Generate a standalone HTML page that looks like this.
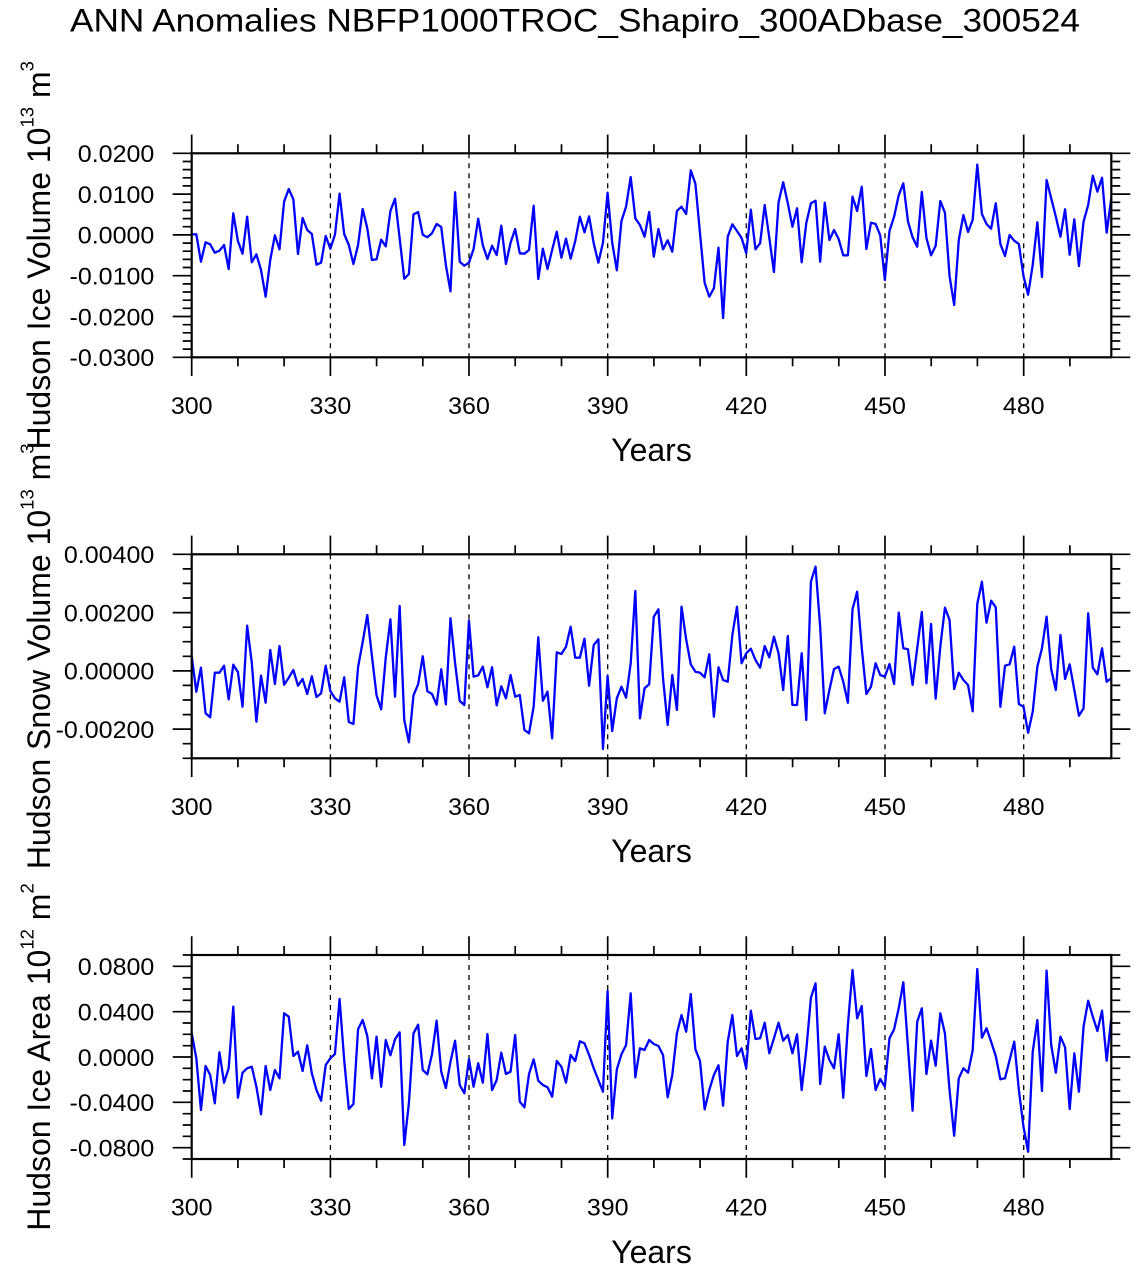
<!DOCTYPE html>
<html><head><meta charset="utf-8"><style>
html,body{margin:0;padding:0;background:#fff;}
svg{display:block;font-family:"Liberation Sans",Arial,sans-serif;}
</style></head><body>
<svg width="1136" height="1268" viewBox="0 0 1136 1268" xmlns="http://www.w3.org/2000/svg">
<rect x="0" y="0" width="1136" height="1268" fill="#fff"/>
<defs>
<path id="xt" d="M191.7 0v-18.7M330.4 0v-18.7M469 0v-18.7M607.7 0v-18.7M746.3 0v-18.7M885 0v-18.7M1023.7 0v-18.7M237.9 0v-9M284.1 0v-9M376.6 0v-9M422.8 0v-9M515.2 0v-9M561.5 0v-9M653.9 0v-9M700.1 0v-9M792.6 0v-9M838.8 0v-9M931.2 0v-9M977.4 0v-9M1069.9 0v-9" stroke="#000" stroke-width="1.7" fill="none"/>
<path id="xb" d="M191.7 0v18.7M330.4 0v18.7M469 0v18.7M607.7 0v18.7M746.3 0v18.7M885 0v18.7M1023.7 0v18.7M237.9 0v9M284.1 0v9M376.6 0v9M422.8 0v9M515.2 0v9M561.5 0v9M653.9 0v9M700.1 0v9M792.6 0v9M838.8 0v9M931.2 0v9M977.4 0v9M1069.9 0v9" stroke="#000" stroke-width="1.7" fill="none"/>
<path id="dl" d="M330.4 0v204M469 0v204M607.7 0v204M746.3 0v204M885 0v204M1023.7 0v204" stroke="#000" stroke-width="1.3" stroke-dasharray="5 5" fill="none"/>
</defs>

<!-- Title -->
<text x="70" y="31.5" font-size="32" textLength="1010" lengthAdjust="spacingAndGlyphs">ANN Anomalies NBFP1000TROC_Shapiro_300ADbase_300524</text>

<!-- ================= PLOT 1 ================= -->
<use href="#dl" y="153.3"/>
<polyline fill="none" stroke="#0000ff" stroke-width="2.3" stroke-linejoin="round" vector-effect="non-scaling-stroke" transform="translate(191.7 0) scale(4.621 1)" points="0,234.3 1,234.3 2,261.7 3,242.3 4,244.3 5,252.7 6,250.7 7,245 8,269 9,213.3 10,241 11,253.7 12,216.7 13,262.3 14,254.3 15,270 16,296.7 17,260 18,235.3 19,249.3 20,201.7 21,189 22,199.3 23,254 24,218 25,230 26,234 27,264.7 28,262.7 29,236 30,248.7 31,234.7 32,193.7 33,234 34,245 35,264 36,245 37,209 38,228.3 39,260 40,259.3 41,239.7 42,246.3 43,211 44,198.7 45,238.3 46,278.7 47,274 48,214.3 49,212 50,234.7 51,237.3 52,233.3 53,224 54,227 55,265 56,291.3 57,192.3 58,261.7 59,265.7 60,262.7 61,249 62,218.7 63,245.3 64,259 65,245.7 66,255 67,225.7 68,264 69,242.7 70,229 71,253.3 72,253.7 73,250 74,205.7 75,279 76,248.7 77,269 78,250 79,231.7 80,257.7 81,238.7 82,258.7 83,241 84,216.7 85,232.3 86,216.3 87,243.3 88,262.7 89,242.7 90,192.7 91,242.7 92,270.3 93,221 94,206.7 95,177 96,218.3 97,225 98,236.7 99,212 100,256.7 101,229 102,249.3 103,240.3 104,251.7 105,211 106,206.7 107,214 108,170.3 109,183.7 110,233.3 111,282.7 112,296.7 113,288.3 114,247.7 115,318 116,236.7 117,224.3 118,231 119,238 120,253.3 121,209.7 122,249.3 123,243.3 124,205 125,238 126,272 127,202.3 128,182.3 129,203.3 130,226.7 131,208.3 132,262.3 133,223 134,203.3 135,200.7 136,261.7 137,202.7 138,240 139,230 140,239 141,255.3 142,255.3 143,196.7 144,211 145,186.7 146,249 147,222.7 148,224 149,235.3 150,280 151,231 152,216.7 153,195.3 154,183.3 155,221.3 156,237.3 157,246.7 158,192 159,238 160,255.3 161,245.7 162,201 163,212.7 164,276 165,305 166,240 167,215 168,232 169,220 170,164.7 171,214 172,224 173,228.7 174,203.3 175,244 176,256 177,235 178,240.7 179,244 180,276 181,294.7 182,265 183,222.3 184,277 185,180 186,198.3 187,216.7 188,236.7 189,209.3 190,254.7 191,219.3 192,266 193,221.7 194,205 195,175.7 196,191.7 197,177.7 198,232.7 199,198.3"/>
<rect x="191.7" y="153.3" width="919.6" height="204" fill="none" stroke="#000" stroke-width="2.2"/>
<use href="#xt" y="153.3"/>
<use href="#xb" y="357.3"/>
<path stroke="#000" stroke-width="1.7" fill="none" d="M191.7 153.3h-19M1111.3 153.3h19M191.7 161.5h-9M1111.3 161.5h9M191.7 169.6h-9M1111.3 169.6h9M191.7 177.8h-9M1111.3 177.8h9M191.7 185.9h-9M1111.3 185.9h9M191.7 194.1h-19M1111.3 194.1h19M191.7 202.3h-9M1111.3 202.3h9M191.7 210.4h-9M1111.3 210.4h9M191.7 218.6h-9M1111.3 218.6h9M191.7 226.7h-9M1111.3 226.7h9M191.7 234.9h-19M1111.3 234.9h19M191.7 243.1h-9M1111.3 243.1h9M191.7 251.2h-9M1111.3 251.2h9M191.7 259.4h-9M1111.3 259.4h9M191.7 267.5h-9M1111.3 267.5h9M191.7 275.7h-19M1111.3 275.7h19M191.7 283.9h-9M1111.3 283.9h9M191.7 292h-9M1111.3 292h9M191.7 300.2h-9M1111.3 300.2h9M191.7 308.3h-9M1111.3 308.3h9M191.7 316.5h-19M1111.3 316.5h19M191.7 324.7h-9M1111.3 324.7h9M191.7 332.8h-9M1111.3 332.8h9M191.7 341h-9M1111.3 341h9M191.7 349.1h-9M1111.3 349.1h9M191.7 357.3h-19M1111.3 357.3h19"/>
<g font-size="24" text-anchor="end">
<text x="154.3" y="162.1" textLength="76.5" lengthAdjust="spacingAndGlyphs">0.0200</text>
<text x="154.3" y="202.9" textLength="76.5" lengthAdjust="spacingAndGlyphs">0.0100</text>
<text x="154.3" y="243.7" textLength="76.5" lengthAdjust="spacingAndGlyphs">0.0000</text>
<text x="154.3" y="284.5" textLength="84.8" lengthAdjust="spacingAndGlyphs">-0.0100</text>
<text x="154.3" y="325.3" textLength="84.8" lengthAdjust="spacingAndGlyphs">-0.0200</text>
<text x="154.3" y="366.1" textLength="84.8" lengthAdjust="spacingAndGlyphs">-0.0300</text>
</g>
<g font-size="24" text-anchor="middle">
<text x="191.7" y="414" textLength="41.7" lengthAdjust="spacingAndGlyphs">300</text>
<text x="330.4" y="414" textLength="41.7" lengthAdjust="spacingAndGlyphs">330</text>
<text x="469" y="414" textLength="41.7" lengthAdjust="spacingAndGlyphs">360</text>
<text x="607.7" y="414" textLength="41.7" lengthAdjust="spacingAndGlyphs">390</text>
<text x="746.3" y="414" textLength="41.7" lengthAdjust="spacingAndGlyphs">420</text>
<text x="885" y="414" textLength="41.7" lengthAdjust="spacingAndGlyphs">450</text>
<text x="1023.7" y="414" textLength="41.7" lengthAdjust="spacingAndGlyphs">480</text>
</g>
<text x="651.5" y="461" font-size="32" text-anchor="middle">Years</text>
<text transform="translate(50 255.3) rotate(-90)" font-size="32" text-anchor="middle">Hudson Ice Volume 10<tspan dy="-16.7" font-size="18.5">13</tspan><tspan dy="16.7"> m</tspan><tspan dy="-16.7" font-size="18.5">3</tspan></text>

<!-- ================= PLOT 2 ================= -->
<use href="#dl" y="554.3"/>
<polyline fill="none" stroke="#0000ff" stroke-width="2.3" stroke-linejoin="round" vector-effect="non-scaling-stroke" transform="translate(191.7 0) scale(4.621 1)" points="0,656 1,691.7 2,667.7 3,713.3 4,717.3 5,672.7 6,672.7 7,665.7 8,699.3 9,664.7 10,672 11,706.7 12,625.7 13,662.7 14,721.7 15,675.7 16,702.7 17,650 18,684 19,646 20,684.7 21,677.7 22,670 23,685.7 24,679 25,694 26,676.3 27,697 28,693.3 29,665.7 30,691 31,698.3 32,701.7 33,677.3 34,722 35,724 36,667.3 37,642 38,615 39,656 40,695.3 41,709.3 42,657.3 43,619.3 44,696.7 45,606 46,720 47,742.3 48,695.3 49,684.3 50,656.3 51,691.3 52,694 53,704.7 54,669.3 55,704.3 56,618.3 57,663.3 58,701 59,705 60,620.7 61,676.7 62,675.3 63,666.7 64,687.3 65,667.3 66,705.3 67,686.3 68,698.3 69,675 70,696.7 71,695 72,730 73,733.3 74,706.7 75,637.3 76,700.7 77,691.7 78,738.3 79,652.3 80,654 81,646.7 82,626.7 83,657.7 84,657.7 85,638.7 86,685.7 87,645 88,639.3 89,749 90,676 91,731 92,698.3 93,686.7 94,697.7 95,663.3 96,591 97,718.3 98,688.3 99,684.3 100,616.7 101,609.3 102,678.3 103,725 104,675 105,710 106,606.7 107,639.3 108,664.3 109,671.7 110,672.7 111,677.3 112,654.3 113,716.7 114,667.3 115,680 116,681.7 117,635 118,606.7 119,663.3 120,653.3 121,648.7 122,660 123,667.7 124,646 125,657.3 126,636.7 127,653.3 128,690 129,636 130,705 131,705 132,653.3 133,720 134,581.7 135,566.7 136,626.7 137,713.3 138,690 139,669 140,666.7 141,681.7 142,702.7 143,609.3 144,591.7 145,647.7 146,694 147,686.7 148,663.3 149,675 150,676.7 151,664 152,684 153,612.7 154,648.3 155,649.3 156,685 157,648.3 158,612 159,683.3 160,624 161,698.7 162,646.7 163,607.7 164,620 165,689 166,672.7 167,680 168,685 169,711.3 170,604 171,581.7 172,622.7 173,600.7 174,607.3 175,706.7 176,665.7 177,664.3 178,646.7 179,704 180,706.7 181,732.7 182,711.7 183,666.7 184,648.3 185,616.7 186,669.3 187,690 188,635 189,679 190,664.3 191,690 192,715.7 193,708.3 194,613.3 195,667.7 196,674.3 197,648.3 198,681.7 199,678.3"/>
<rect x="191.7" y="554.3" width="919.6" height="204" fill="none" stroke="#000" stroke-width="2.2"/>
<use href="#xt" y="554.3"/>
<use href="#xb" y="758.3"/>
<path stroke="#000" stroke-width="1.7" fill="none" d="M191.7 554.3h-19M1111.3 554.3h19M191.7 568.9h-9M1111.3 568.9h9M191.7 583.4h-9M1111.3 583.4h9M191.7 598h-9M1111.3 598h9M191.7 612.6h-19M1111.3 612.6h19M191.7 627.2h-9M1111.3 627.2h9M191.7 641.7h-9M1111.3 641.7h9M191.7 656.3h-9M1111.3 656.3h9M191.7 670.9h-19M1111.3 670.9h19M191.7 685.4h-9M1111.3 685.4h9M191.7 700h-9M1111.3 700h9M191.7 714.6h-9M1111.3 714.6h9M191.7 729.1h-19M1111.3 729.1h19M191.7 743.7h-9M1111.3 743.7h9M191.7 758.3h-9M1111.3 758.3h9"/>
<g font-size="24" text-anchor="end">
<text x="154.3" y="563.1" textLength="90.4" lengthAdjust="spacingAndGlyphs">0.00400</text>
<text x="154.3" y="621.4" textLength="90.4" lengthAdjust="spacingAndGlyphs">0.00200</text>
<text x="154.3" y="679.7" textLength="90.4" lengthAdjust="spacingAndGlyphs">0.00000</text>
<text x="154.3" y="737.9" textLength="98.7" lengthAdjust="spacingAndGlyphs">-0.00200</text>
</g>
<g font-size="24" text-anchor="middle">
<text x="191.7" y="815" textLength="41.7" lengthAdjust="spacingAndGlyphs">300</text>
<text x="330.4" y="815" textLength="41.7" lengthAdjust="spacingAndGlyphs">330</text>
<text x="469" y="815" textLength="41.7" lengthAdjust="spacingAndGlyphs">360</text>
<text x="607.7" y="815" textLength="41.7" lengthAdjust="spacingAndGlyphs">390</text>
<text x="746.3" y="815" textLength="41.7" lengthAdjust="spacingAndGlyphs">420</text>
<text x="885" y="815" textLength="41.7" lengthAdjust="spacingAndGlyphs">450</text>
<text x="1023.7" y="815" textLength="41.7" lengthAdjust="spacingAndGlyphs">480</text>
</g>
<text x="651.5" y="862" font-size="32" text-anchor="middle">Years</text>
<text transform="translate(50 656.3) rotate(-90)" font-size="32" text-anchor="middle">Hudson Snow Volume 10<tspan dy="-16.7" font-size="18.5">13</tspan><tspan dy="16.7"> m</tspan><tspan dy="-16.7" font-size="18.5">3</tspan></text>

<!-- ================= PLOT 3 ================= -->
<use href="#dl" y="955"/>
<polyline fill="none" stroke="#0000ff" stroke-width="2.3" stroke-linejoin="round" vector-effect="non-scaling-stroke" transform="translate(191.7 0) scale(4.621 1)" points="0,1033.3 1,1058.3 2,1110 3,1066 4,1075 5,1103.3 6,1052.3 7,1082.7 8,1068.3 9,1006.7 10,1097.7 11,1072.7 12,1068.3 13,1066.7 14,1086.7 15,1114.3 16,1066 17,1090 18,1070 19,1078.3 20,1013.3 21,1016.7 22,1056 23,1051.7 24,1071 25,1045.3 26,1073.3 27,1090 28,1100.7 29,1065 30,1058.3 31,1054 32,999 33,1060 34,1109 35,1104 36,1029.3 37,1020 38,1036 39,1078.3 40,1036.7 41,1086.7 42,1040 43,1055.3 44,1039.3 45,1032.3 46,1145 47,1103.3 48,1033.3 49,1024.7 50,1070 51,1074.3 52,1054.3 53,1020.7 54,1071.7 55,1088 56,1061.7 57,1040.7 58,1085 59,1093.3 60,1059 61,1086.7 62,1063.3 63,1082.7 64,1034 65,1090 66,1080 67,1052.7 68,1074 69,1071.7 70,1035 71,1101.7 72,1107.3 73,1074 74,1059.3 75,1080.7 76,1085 77,1087.3 78,1096.7 79,1061 80,1066.7 81,1082.7 82,1055 83,1061 84,1041.3 85,1043.3 86,1055 87,1068.3 88,1080 89,1091.7 90,991 91,1118.3 92,1069.3 93,1054.3 94,1045 95,993.3 96,1077.3 97,1048.3 98,1050 99,1040 100,1044 101,1046 102,1055 103,1097.3 104,1075 105,1033.3 106,1015 107,1031.7 108,994 109,1049.3 110,1061 111,1109.3 112,1090 113,1075 114,1065.3 115,1105.7 116,1041.7 117,1015 118,1056 119,1048.3 120,1068.3 121,1010.7 122,1039 123,1038.3 124,1022.7 125,1053.3 126,1038.3 127,1022.7 128,1040.7 129,1035 130,1053.3 131,1034.3 132,1090 133,1050 134,997.7 135,983.3 136,1084 137,1046.7 138,1060 139,1068.3 140,1034.3 141,1097.7 142,1025 143,970 144,1018.3 145,1006 146,1076 147,1049 148,1090 149,1079 150,1086.7 151,1038.3 152,1029.3 153,1008.3 154,982.3 155,1046.7 156,1110.7 157,1021.7 158,1008.3 159,1074 160,1040.7 161,1065.7 162,1013.3 163,1033.3 164,1090 165,1135.7 166,1078.3 167,1068.3 168,1072.7 169,1050.7 170,969 171,1037.7 172,1028.3 173,1041.7 174,1056 175,1079.3 176,1078.3 177,1060 178,1041.7 179,1090 180,1126.7 181,1151.7 182,1051.7 183,1020 184,1091 185,970.7 186,1045 187,1072.7 188,1036.7 189,1047.3 190,1109 191,1053.3 192,1091.7 193,1026.7 194,1000.7 195,1016.7 196,1031 197,1010.7 198,1060.7 199,1018.3"/>
<rect x="191.7" y="955" width="919.6" height="204" fill="none" stroke="#000" stroke-width="2.2"/>
<use href="#xt" y="955"/>
<use href="#xb" y="1159"/>
<path stroke="#000" stroke-width="1.7" fill="none" d="M191.7 955h-9M1111.3 955h9M191.7 966.3h-19M1111.3 966.3h19M191.7 977.7h-9M1111.3 977.7h9M191.7 989h-9M1111.3 989h9M191.7 1000.3h-9M1111.3 1000.3h9M191.7 1011.7h-19M1111.3 1011.7h19M191.7 1023h-9M1111.3 1023h9M191.7 1034.3h-9M1111.3 1034.3h9M191.7 1045.7h-9M1111.3 1045.7h9M191.7 1057h-19M1111.3 1057h19M191.7 1068.3h-9M1111.3 1068.3h9M191.7 1079.7h-9M1111.3 1079.7h9M191.7 1091h-9M1111.3 1091h9M191.7 1102.3h-19M1111.3 1102.3h19M191.7 1113.7h-9M1111.3 1113.7h9M191.7 1125h-9M1111.3 1125h9M191.7 1136.3h-9M1111.3 1136.3h9M191.7 1147.7h-19M1111.3 1147.7h19M191.7 1159h-9M1111.3 1159h9"/>
<g font-size="24" text-anchor="end">
<text x="154.3" y="975.1" textLength="76.5" lengthAdjust="spacingAndGlyphs">0.0800</text>
<text x="154.3" y="1020.5" textLength="76.5" lengthAdjust="spacingAndGlyphs">0.0400</text>
<text x="154.3" y="1065.8" textLength="76.5" lengthAdjust="spacingAndGlyphs">0.0000</text>
<text x="154.3" y="1111.1" textLength="84.8" lengthAdjust="spacingAndGlyphs">-0.0400</text>
<text x="154.3" y="1156.5" textLength="84.8" lengthAdjust="spacingAndGlyphs">-0.0800</text>
</g>
<g font-size="24" text-anchor="middle">
<text x="191.7" y="1215.5" textLength="41.7" lengthAdjust="spacingAndGlyphs">300</text>
<text x="330.4" y="1215.5" textLength="41.7" lengthAdjust="spacingAndGlyphs">330</text>
<text x="469" y="1215.5" textLength="41.7" lengthAdjust="spacingAndGlyphs">360</text>
<text x="607.7" y="1215.5" textLength="41.7" lengthAdjust="spacingAndGlyphs">390</text>
<text x="746.3" y="1215.5" textLength="41.7" lengthAdjust="spacingAndGlyphs">420</text>
<text x="885" y="1215.5" textLength="41.7" lengthAdjust="spacingAndGlyphs">450</text>
<text x="1023.7" y="1215.5" textLength="41.7" lengthAdjust="spacingAndGlyphs">480</text>
</g>
<text x="651.5" y="1263" font-size="32" text-anchor="middle">Years</text>
<text transform="translate(50 1057) rotate(-90)" font-size="32" text-anchor="middle">Hudson Ice Area 10<tspan dy="-16.7" font-size="18.5">12</tspan><tspan dy="16.7"> m</tspan><tspan dy="-16.7" font-size="18.5">2</tspan></text>
</svg>
</body></html>
